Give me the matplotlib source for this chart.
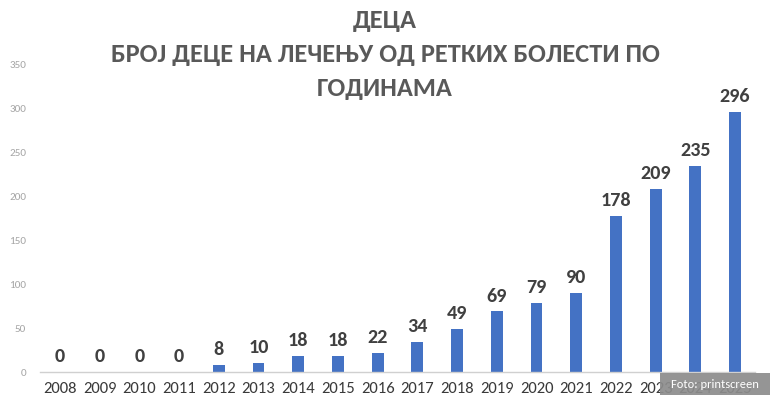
import matplotlib
matplotlib.use("Agg")
import matplotlib.pyplot as plt
from matplotlib.patches import Rectangle

years = [str(y) for y in range(2008, 2026)]
values = [0, 0, 0, 0, 8, 10, 18, 18, 22, 34, 49, 69, 79, 90, 178, 209, 235, 296]
yticks = [0, 50, 100, 150, 200, 250, 300, 350]
title_lines = ["ДЕЦА", "БРОЈ ДЕЦЕ НА ЛЕЧЕЊУ ОД РЕТКИХ БОЛЕСТИ ПО", "ГОДИНАМА"]

plt.rcParams['font.family'] = ['Carlito', 'DejaVu Sans']

W, H = 770, 395
fig = plt.figure(figsize=(W / 100, H / 100), dpi=100)
ax = fig.add_axes([40 / W, 23 / H, 715 / W, 307 / H])
x = list(range(len(years)))
ax.bar(x, values, width=0.3, color="#4472C4", zorder=2)
for xi, v in zip(x, values):
    ax.annotate(str(v), (xi, v), xytext=(0, 5), textcoords="offset points",
                ha="center", va="bottom", fontsize=14.5, fontweight="bold", color="#404040")
ax.set_xlim(-0.5, len(years) - 0.5)
ax.set_ylim(0, 350)
ax.set_yticks(yticks)
ax.set_xticks(x)
ax.set_xticklabels(years, fontsize=12, color="#3a3a3a")
ax.tick_params(axis="y", labelsize=8, colors="#a6a6a6", length=0, pad=10)
ax.tick_params(axis="x", length=0, pad=7)
for s in ["top", "right", "left"]:
    ax.spines[s].set_visible(False)
ax.spines["bottom"].set_color("#d0d0d0")
ax.spines["bottom"].set_linewidth(1)

for t, yy in zip(title_lines, [20, 54, 88]):
    fig.text(385 / W, 1 - yy / H, t, ha="center", va="center", fontsize=19,
             fontweight="bold", color="#595959")

fig.patches.append(Rectangle((660 / W, 0), 110 / W, 22 / H, transform=fig.transFigure,
                             facecolor="#8c8c8c", edgecolor="none", alpha=0.92, zorder=5))
fig.text(715 / W, 11 / H, "Foto: printscreen", ha="center", va="center", fontsize=9,
         color="white", zorder=6)

fig.savefig("out.png", dpi=100)
